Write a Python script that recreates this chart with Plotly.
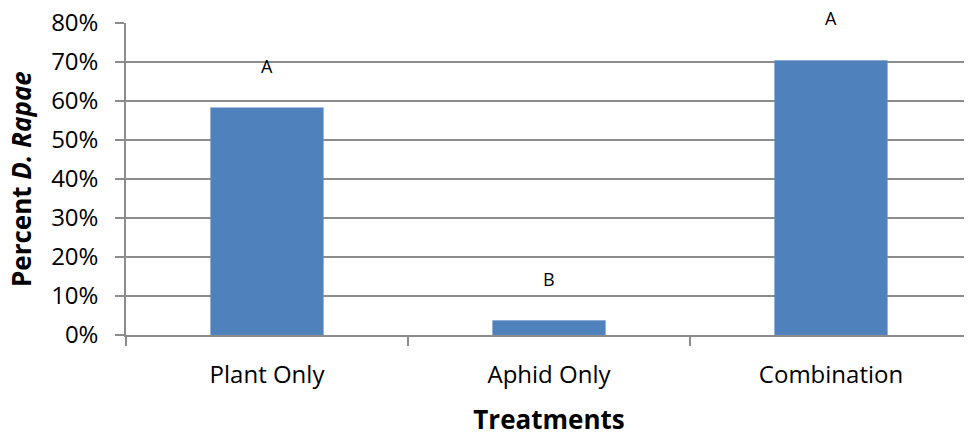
import plotly.graph_objects as go

categories = ["Plant Only", "Aphid Only", "Combination"]
percent_values = [0.583, 0.037, 0.704]
group_letters = ["A", "B", "A"]
y_tick_values = [0, 0.1, 0.2, 0.3, 0.4, 0.5, 0.6, 0.7, 0.8]
y_tick_labels = ["0%", "10%", "20%", "30%", "40%", "50%", "60%", "70%", "80%"]
x_title = "<b>Treatments</b>"
y_title = "<b>Percent <i>D. Rapae</i></b>"

FONT = "Open Sans"
GRID = "#8c8c8c"

fig = go.Figure()
fig.add_trace(go.Bar(
    x=categories,
    y=percent_values,
    marker=dict(color="#4F81BD", line=dict(color="#6f97c9", width=0.5)),
    hoverinfo="skip",
))

for cat, val, letter in zip(categories, percent_values, group_letters):
    fig.add_annotation(
        x=cat, y=val, text=letter, showarrow=False,
        yshift=42, yanchor="middle",
        font=dict(family=FONT, size=18, color="black"),
    )

# y-axis title placed as a rotated annotation in the left margin
fig.add_annotation(
    xref="paper", yref="paper", x=0, y=0.5,
    xshift=-105, xanchor="center", yanchor="middle",
    text=y_title, textangle=-90, showarrow=False,
    font=dict(family=FONT, size=26, color="black"),
)

# page body has an 8px default margin, so the figure is sized to fit inside the window
fig.update_layout(
    width=964, height=430,
    margin=dict(l=118, r=0, t=15, b=103),
    paper_bgcolor="white", plot_bgcolor="white",
    bargap=0.6,
    showlegend=False,
    font=dict(family=FONT, color="black"),
)

fig.update_xaxes(
    type="category", automargin=False,
    showline=True, linecolor=GRID, linewidth=1.5,
    ticks="outside", tickson="boundaries", ticklen=9, tickcolor=GRID, tickwidth=1.5,
    tickfont=dict(family=FONT, size=24, color="black"),
    ticklabelstandoff=17,
    showgrid=False,
    title=dict(text=x_title, font=dict(family=FONT, size=26, color="black"), standoff=22),
)

fig.update_yaxes(
    range=[0, 0.8], automargin=False,
    tickvals=y_tick_values, ticktext=y_tick_labels,
    ticklabeloverflow="allow",
    showgrid=True, gridcolor=GRID, gridwidth=1.5,
    showline=True, linecolor=GRID, linewidth=1.5,
    ticks="outside", ticklen=9, tickcolor=GRID, tickwidth=1.5,
    tickfont=dict(family=FONT, size=24, color="black"),
    ticklabelstandoff=12,
    zeroline=False,
)

fig.write_html("out.html")
